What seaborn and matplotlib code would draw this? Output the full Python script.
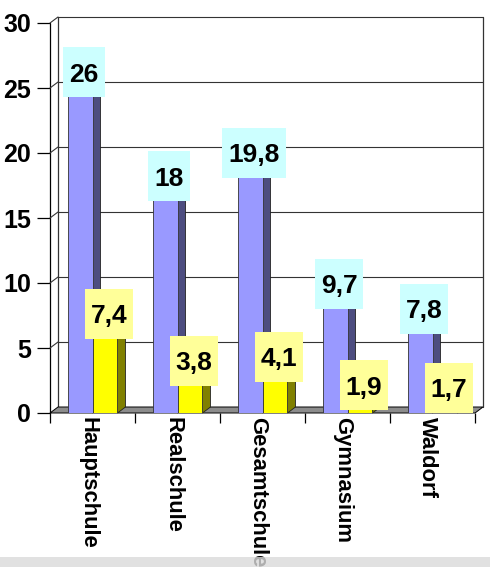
import matplotlib
matplotlib.use("Agg")
import matplotlib.pyplot as plt
import seaborn as sns
import pandas as pd
import numpy as np
from matplotlib.patches import Polygon, Rectangle
from matplotlib.transforms import offset_copy, IdentityTransform, ScaledTranslation

categories = ["Hauptschule", "Realschule", "Gesamtschule", "Gymnasium", "Waldorf"]
series_a = [26, 18, 19.8, 9.7, 7.8]
series_b = [7.4, 3.8, 4.1, 1.9, 1.7]
series_names = ["Reihe 1", "Reihe 2"]
y_ticks = [0, 5, 10, 15, 20, 25, 30]

front_colors = ["#9999FF", "#FFFF00"]
side_colors = ["#4D4D80", "#808000"]
top_colors = ["#B3B3FF", "#FFFF66"]
label_box_colors = ["#CCFFFF", "#FFFF99"]

df = pd.DataFrame({
    "cat": categories * 2,
    "val": series_a + series_b,
    "series": [series_names[0]] * len(categories) + [series_names[1]] * len(categories),
})

sns.set_theme(style="white")
plt.rcParams['font.family'] = ['Liberation Sans', 'DejaVu Sans']

DPI = 100
fig = plt.figure(figsize=(4.9, 5.7), dpi=DPI)
ax = fig.add_axes([50 / 490, 157 / 570, 425 / 490, 390 / 570])
ax.set_facecolor("none")

sns.barplot(data=df, x="cat", y="val", hue="series", palette=front_colors,
            width=0.588, gap=0, saturation=1, edgecolor="#333333", linewidth=0.6,
            legend=False, ax=ax, zorder=3)

ax.set_xlim(-0.5, len(categories) - 0.5)
ax.set_ylim(0, 30)
for s in ax.spines.values():
    s.set_visible(False)

DX, DY = 8, 6  # depth offset in pixels
back = offset_copy(ax.transData, fig=fig, x=DX, y=DY, units='dots')
inv = ax.transData.inverted()


def back_pt(x, y):
    p = ax.transData.transform((x, y)) + np.array([DX, DY])
    return tuple(inv.transform(p))


x0a, x1a = ax.get_xlim()
y0a, y1a = ax.get_ylim()
gc = "#333333"
# back wall gridlines and frame
for v in y_ticks[1:]:
    ax.plot([x0a, x1a], [v, v], transform=back, color=gc, lw=0.8, zorder=0.5, clip_on=False)
ax.plot([x0a, x0a], [y0a, y1a], transform=back, color=gc, lw=0.9, zorder=0.5, clip_on=False)
ax.plot([x1a, x1a], [y0a, y1a], transform=back, color=gc, lw=0.9, zorder=0.5, clip_on=False)
# front left spine and diagonals
ax.plot([x0a, x0a], [y0a, y1a], color="black", lw=0.9, zorder=0.6, clip_on=False)
for v in y_ticks[1:]:
    bx, by = back_pt(x0a, v)
    ax.plot([x0a, bx], [v, by], color=gc, lw=0.8, zorder=0.6, clip_on=False)

# floor
floor = Polygon([(x0a, 0), (x1a, 0), back_pt(x1a, 0), back_pt(x0a, 0)], closed=True,
                facecolor="#8C8C8C", edgecolor="black", lw=0.7, zorder=1, clip_on=False)
ax.add_patch(floor)

# 3D sides / tops of bars
bars = [b for b in list(ax.patches) if b is not floor]
n = len(categories)
for i, b in enumerate(bars):
    si = i // n
    x0 = b.get_x()
    w = b.get_width()
    h = b.get_height()
    x1 = x0 + w
    side = Polygon([(x1, 0), (x1, h), back_pt(x1, h), back_pt(x1, 0)], closed=True,
                   facecolor=side_colors[si], edgecolor="#222222", lw=0.6, zorder=2.9, clip_on=False)
    top = Polygon([(x0, h), (x1, h), back_pt(x1, h), back_pt(x0, h)], closed=True,
                  facecolor=top_colors[si], edgecolor="#222222", lw=0.6, zorder=2.9, clip_on=False)
    ax.add_patch(side)
    ax.add_patch(top)

# ticks
ax.set_yticks(y_ticks)
ax.set_yticklabels([str(t) for t in y_ticks], fontsize=18, fontweight="bold")
ax.tick_params(axis="y", which="major", left=True, length=9.5, width=0.9, color="black",
               pad=4.3, labelcolor="black")
ax.set_xticks(range(n))
ax.set_xticklabels(categories, rotation=270, fontsize=15.8, fontweight="bold",
                   ha="center", va="top")
ax.tick_params(axis="x", which="major", bottom=True, length=0, pad=3, labelcolor="black")
ax.set_xticks(np.arange(-0.5, n, 1.0), minor=True)
ax.tick_params(axis="x", which="minor", bottom=True, length=7, width=0.9, color="black")
ax.set_xlabel("")
ax.set_ylabel("")
for t in ax.xaxis.get_major_ticks():
    t.label1.set_transform(t.label1.get_transform() + ScaledTranslation(-5 / DPI, 0, fig.dpi_scale_trans))

# value labels
renderer = fig.canvas.get_renderer()
for i, b in enumerate(bars):
    si = i // n
    h = b.get_height()
    xc = b.get_x() + b.get_width() / 2
    px, py = ax.transData.transform((xc, h)) + np.array([DX / 2, DY / 2])
    s = f"{h:g}".replace(".", ",")
    t = ax.text(px, py - 9.5, s, transform=IdentityTransform(), ha="center", va="baseline",
                fontsize=19, fontweight="bold", color="black", zorder=11, clip_on=False)
    ext = t.get_window_extent(renderer)
    bw = ext.width + 12
    bh = 50
    r = Rectangle((px - bw / 2, py - bh / 2), bw, bh, transform=IdentityTransform(),
                  facecolor=label_box_colors[si], edgecolor="none", zorder=10, clip_on=False)
    ax.add_patch(r)

# bottom grey band
band = Rectangle((0, 3 / 570), 1, 10 / 570, transform=fig.transFigure,
                 facecolor="#DADADA", edgecolor="none", alpha=0.8, zorder=20)
fig.patches.append(band)

fig.savefig("out.png", dpi=DPI)
